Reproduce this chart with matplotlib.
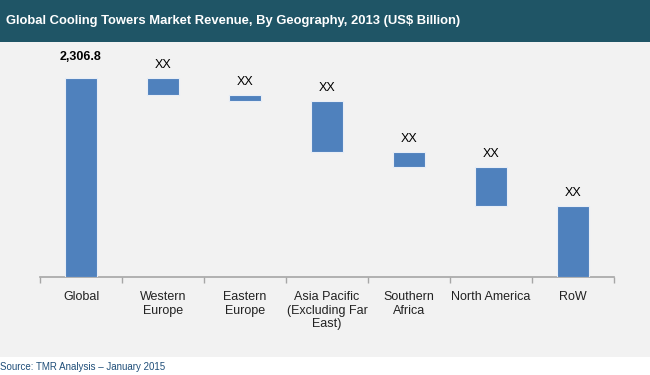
import matplotlib.pyplot as plt
import numpy as np

plt.rcParams['font.family'] = ['Liberation Sans', 'DejaVu Sans']

# data
categories = ['Global', 'Western\nEurope', 'Eastern\nEurope', 'Asia Pacific\n(Excluding Far\nEast)',
              'Southern\nAfrica', 'North America', 'RoW']
total = 2306.8
deltas = [197, 70, 591, 174, 452, 823]
labels = ['2,306.8', 'XX', 'XX', 'XX', 'XX', 'XX', 'XX']

# waterfall: each region bar hangs from the running remainder
tops = [total]
bottoms = [0]
level = total
for d in deltas:
    tops.append(level)
    level = level - d
    bottoms.append(level)
tops = np.array(tops)
bottoms = np.array(bottoms)
heights = tops - bottoms

bg = '#f2f2f2'
fig = plt.figure(figsize=(6.5, 3.75), dpi=100)
fig.patch.set_facecolor('white')

# gray panel and title band
fig.patches.append(plt.Rectangle((0, 18 / 375), 1, 1 - 18 / 375, transform=fig.transFigure,
                                 facecolor=bg, edgecolor='none', zorder=-2))
fig.patches.append(plt.Rectangle((0, 1 - 42 / 375), 1, 42 / 375, transform=fig.transFigure,
                                 facecolor='#1f5566', edgecolor='none', zorder=-1))
fig.text(6 / 650, 1 - 21 / 375, 'Global Cooling Towers Market Revenue, By Geography, 2013 (US$ Billion)',
         color='white', fontsize=9.4, fontweight='bold', va='center', ha='left')
fig.text(0, 8 / 375, 'Source: TMR Analysis \u2013 January 2015', color='#1f4e79', fontsize=7,
         va='center', ha='left')

ax = fig.add_axes([40 / 650, 98 / 375, 574 / 650, 232 / 375])
ax.set_zorder(2)
ax.set_facecolor('none')
x = np.arange(len(categories))
ax.bar(x, heights, bottom=bottoms, width=0.4, color='#4f81bd', edgecolor='#e8eef6', linewidth=0.8, zorder=3)

for i, (t, lab) in enumerate(zip(tops, labels)):
    if i == 0:
        ax.text(i, t + 170, lab, ha='center', va='bottom', fontsize=9, fontweight='bold', color='black')
    else:
        ax.text(i, t + 80, lab, ha='center', va='bottom', fontsize=9, color='black')

ax.set_xlim(-0.5, len(categories) - 0.5)
ax.set_ylim(0, 2690)
for s in ['top', 'right', 'left']:
    ax.spines[s].set_visible(False)
ax.spines['bottom'].set_color('#a6a6a6')
ax.spines['bottom'].set_linewidth(1.2)
ax.set_yticks([])

ax.set_xticks(np.arange(-0.5, len(categories) + 0.5, 1))
ax.set_xticklabels([])
ax.tick_params(axis='x', length=4, color='#a6a6a6', width=1)
ax.set_xticks(x, minor=True)
ax.set_xticklabels(categories, minor=True, fontsize=9, color='#222222', linespacing=1.2)
ax.tick_params(axis='x', which='minor', length=0, pad=10)

fig.savefig('out.png', dpi=100, facecolor=fig.get_facecolor())
